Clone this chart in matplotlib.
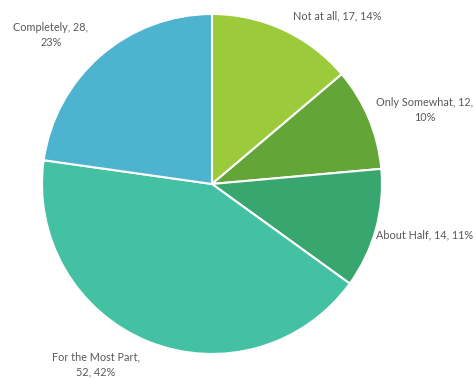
import matplotlib.pyplot as plt

categories = ['Not at all', 'Only Somewhat', 'About Half', 'For the Most Part', 'Completely']
values = [17, 12, 14, 52, 28]
percents = [14, 10, 11, 42, 23]
colors = ['#9BCB3B', '#63A537', '#37A76F', '#44C1A3', '#4EB3CF']

plt.rcParams['font.family'] = ['Lato', 'DejaVu Sans']

fig = plt.figure(figsize=(4.77, 3.79), dpi=100)
ax = fig.add_axes([0, 0, 1, 1])
ax.axis('off')

ax.pie(values, colors=colors, startangle=90, counterclock=False,
       center=(212, 195), radius=170,
       wedgeprops=dict(edgecolor='white', linewidth=1.5))
ax.set_xlim(0, 477)
ax.set_ylim(0, 379)

# label text and where it sits
wrap = [False, True, False, True, True]
label_xy = [(337, 363), (425, 269), (425, 144), (96, 15), (51, 344)]
for cat, v, p, w, (x, y) in zip(categories, values, percents, wrap, label_xy):
    if w:
        if cat == 'Completely' or cat == 'Only Somewhat':
            txt = f'{cat}, {v},\n{p}%'
        else:
            txt = f'{cat},\n{v}, {p}%'
    else:
        txt = f'{cat}, {v}, {p}%'
    ax.text(x, y, txt, ha='center', va='center', fontsize=7.8,
            color='#595959', linespacing=1.45)

fig.savefig('out.png', dpi=100)
